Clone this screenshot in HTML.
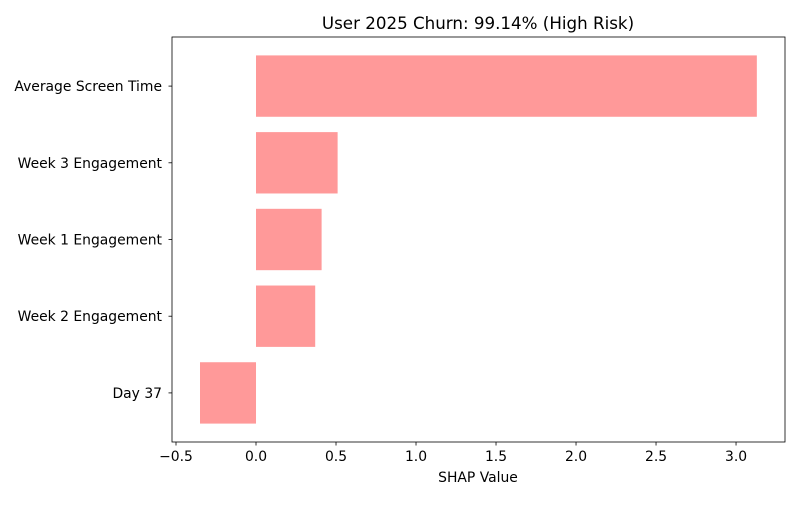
<!DOCTYPE html>
<html><head><meta charset="utf-8"><style>
body{margin:0;background:#fff;font-family:"Liberation Sans","DejaVu Sans",sans-serif;}
svg text{font-family:"DejaVu Sans","Liberation Sans",sans-serif;}
</style></head><body>
<svg id="chart" width="800" height="500" xmlns="http://www.w3.org/2000/svg"></svg>
<script>
const categories = ["Day 37","Week 2 Engagement","Week 1 Engagement","Week 3 Engagement","Average Screen Time"];
const shapValues = [-0.35, 0.37, 0.41, 0.51, 3.13];
const xTicks = [-0.5,0.0,0.5,1.0,1.5,2.0,2.5,3.0];
const xTickLabels = ["−0.5","0.0","0.5","1.0","1.5","2.0","2.5","3.0"];

const L=172,R=785,T=37,B=442;
const xmin=-0.525,xmax=3.306;
const ymin=-0.64,ymax=4.64;
const sx=v=>L+(v-xmin)/(xmax-xmin)*(R-L);
const sy=v=>B-(v-ymin)/(ymax-ymin)*(B-T);
const svg=document.getElementById('chart');
const NS='http://www.w3.org/2000/svg';
function mk(tag,attrs,parent){const e=document.createElementNS(NS,tag);for(const k in attrs)e.setAttribute(k,attrs[k]);(parent||svg).appendChild(e);return e;}

const t=mk('text',{x:478,y:29,'text-anchor':'middle','font-size':16.7,fill:'#000'});
t.textContent='User 2025 Churn: 99.14% (High Risk)';



const bh=(sy(0)-sy(0.8));
shapValues.forEach((v,i)=>{
  const x0=sx(Math.min(0,v)),x1=sx(Math.max(0,v));
  const r=mk('rect',{x:x0,y:sy(i)-bh/2,width:x1-x0,height:bh,fill:'#ff9999'});
  
  
  mk('line',{x1:L-3.5,x2:L,y1:sy(i),y2:sy(i),stroke:'#000','stroke-width':0.8});
  const lb=mk('text',{x:L-10,y:sy(i)+5,'text-anchor':'end','font-size':13.9,fill:'#000'});
  lb.textContent=categories[i];
  
  
});
xTicks.forEach((v,i)=>{
  mk('line',{x1:sx(v),x2:sx(v),y1:B,y2:B+3.5,stroke:'#000','stroke-width':0.8});
  const lb=mk('text',{x:sx(v),y:B+19,'text-anchor':'middle','font-size':13.9,fill:'#000'});
  lb.textContent=xTickLabels[i];
  
  
});
const fr=mk('rect',{x:L,y:T,width:R-L,height:B-T,fill:'none',stroke:'#000','stroke-width':0.8});


const xl=mk('text',{x:478,y:482,'text-anchor':'middle','font-size':13.9,fill:'#000'});
xl.textContent='SHAP Value';


</script>
</body></html>
